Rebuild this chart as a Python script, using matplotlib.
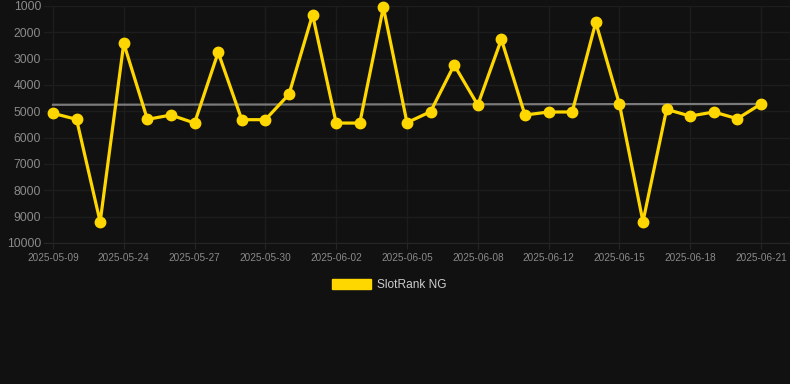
# coding: utf-8

import matplotlib
matplotlib.use('Agg')
import matplotlib.pyplot as plt
from matplotlib.patches import Patch

# Rank values per day (lower is better, axis inverted)
ranks = [5075, 5305, 9200, 2418, 5305, 5140, 5445, 2760, 5317, 5317,
         4355, 1330, 5445, 5445, 1050, 5430, 5013, 3240, 4760, 2266,
         5140, 5025, 5025, 1620, 4720, 9190, 4925, 5180, 5025, 5280, 4720]
# Trend line, first and last value
trend = [4750, 4720]
tick_labels = ['2025-05-09', '2025-05-24', '2025-05-27', '2025-05-30',
               '2025-06-02', '2025-06-05', '2025-06-08', '2025-06-12',
               '2025-06-15', '2025-06-18', '2025-06-21']
y_ticks = [1000, 2000, 3000, 4000, 5000, 6000, 7000, 8000, 9000, 10000]
series_name = 'SlotRank NG'

bg = '#111111'
grid = '#1d1d1d'
gold = '#FFD700'

plt.rcParams['font.family'] = ['Liberation Sans', 'DejaVu Sans']

fig = plt.figure(figsize=(7.9, 3.84), dpi=100, facecolor=bg)
ax = fig.add_axes([44 / 790, 1 - 243 / 384, 746 / 790, 237 / 384])
ax.set_facecolor(bg)

x = list(range(len(ranks)))
ax.plot([x[0], x[-1]], trend, color='#7a7a7a', lw=1.6, zorder=2, clip_on=False)
ax.plot(x, ranks, color=gold, lw=2.3, marker='o', ms=7.5,
        markerfacecolor=gold, markeredgecolor=gold, zorder=3, clip_on=False)

ax.set_ylim(10000, 1000)
ax.set_yticks(y_ticks)
ax.set_xlim(-0.38, 31.23)
tick_pos = x[::3]
ax.set_xticks(tick_pos)
ax.set_xticklabels(tick_labels)

ax.grid(True, color=grid, lw=1.0)
ax.set_axisbelow(True)
for s in ['top', 'right', 'left']:
    ax.spines[s].set_visible(False)
ax.spines['bottom'].set_color('#262626')

ax.tick_params(axis='y', length=0, pad=2, labelsize=8.8, labelcolor='#8a8a8a')
ax.tick_params(axis='x', length=4, color='#262626', pad=3.5, labelsize=7.2,
               labelcolor='#8a8a8a')

handle = Patch(facecolor=gold, edgecolor=gold)
leg = fig.legend([handle], [series_name], loc='center',
                 bbox_to_anchor=(389 / 790, 1 - 285 / 384), frameon=False,
                 handlelength=3.3, handleheight=1.0, handletextpad=0.5,
                 prop={'size': 8.6})
for t in leg.get_texts():
    t.set_color('#cccccc')

plt.savefig('out.png', dpi=100, facecolor=bg)
